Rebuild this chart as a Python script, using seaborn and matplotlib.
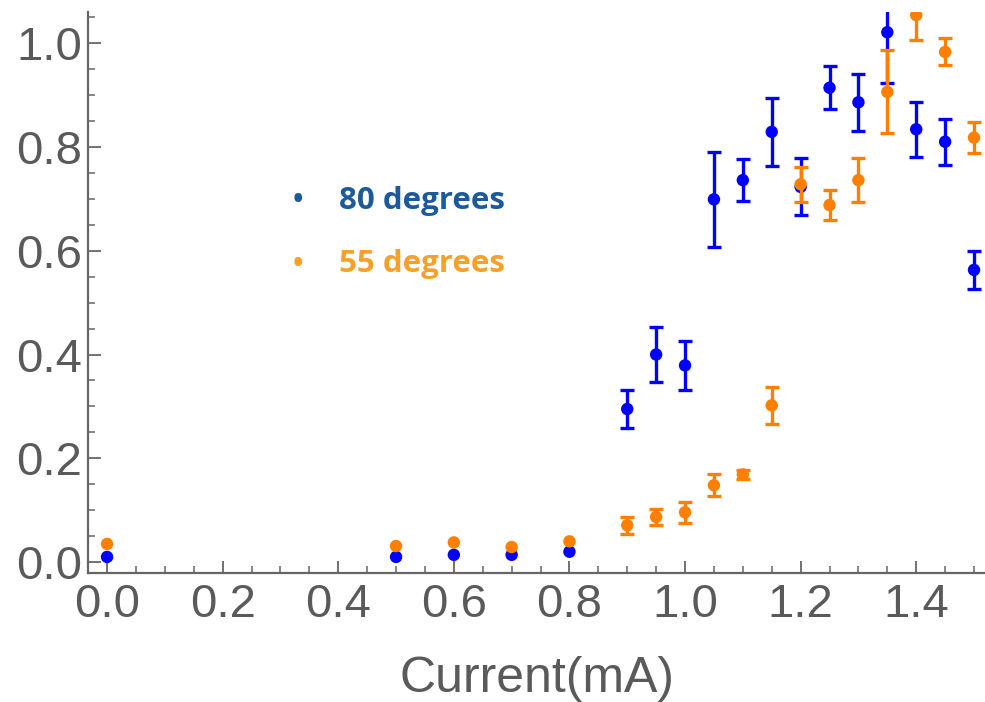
import matplotlib
matplotlib.use("Agg")
import matplotlib.pyplot as plt
from matplotlib.ticker import MultipleLocator
import seaborn as sns
import pandas as pd
import numpy as np

# ---- data ----
current = [0.0, 0.5, 0.6, 0.7, 0.8, 0.9, 0.95, 1.0, 1.05, 1.1, 1.15, 1.2, 1.25, 1.3, 1.35, 1.4, 1.45, 1.5]
deg80 = [0.010, 0.010, 0.014, 0.014, 0.020, 0.295, 0.400, 0.379, 0.699, 0.736, 0.829, 0.723, 0.914, 0.886, 1.021, 0.834, 0.810, 0.563]
deg80_err = [0.0, 0.0, 0.0, 0.0, 0.0, 0.037, 0.053, 0.047, 0.092, 0.041, 0.065, 0.055, 0.041, 0.055, 0.097, 0.053, 0.044, 0.036]
deg55 = [0.035, 0.031, 0.038, 0.029, 0.040, 0.071, 0.087, 0.096, 0.148, 0.169, 0.302, 0.728, 0.688, 0.736, 0.906, 1.054, 0.983, 0.818]
deg55_err = [0.0, 0.0, 0.0, 0.0, 0.0, 0.016, 0.016, 0.020, 0.021, 0.008, 0.035, 0.034, 0.029, 0.043, 0.080, 0.047, 0.026, 0.030]
series_names = ["80 degrees", "55 degrees"]
x_ticks = [0.0, 0.2, 0.4, 0.6, 0.8, 1.0, 1.2, 1.4]
y_ticks = [0.0, 0.2, 0.4, 0.6, 0.8, 1.0]
x_label = "Current(mA)"

marker_colors = {"80 degrees": "#0000ff", "55 degrees": "#ff7f00"}
legend_colors = {"80 degrees": "#1c5a9c", "55 degrees": "#f7a02a"}

df = pd.concat([
    pd.DataFrame({"current": current, "value": deg80, "err": deg80_err, "series": series_names[0]}),
    pd.DataFrame({"current": current, "value": deg55, "err": deg55_err, "series": series_names[1]}),
])

sns.set_theme(style="white")
plt.rcParams['font.family'] = ['Liberation Sans', 'DejaVu Sans']

fig = plt.figure(figsize=(9.85, 7.02), dpi=100)
ax = fig.add_axes([88/985, (702-573)/702, 1 - 88/985, (573-12)/702])

axis_gray = "#666666"
for i, name in enumerate(series_names):
    sub = df[df["series"] == name]
    eb = sub[sub["err"] > 0]
    ax.errorbar(eb["current"], eb["value"], yerr=eb["err"], fmt="none",
                ecolor=marker_colors[name], elinewidth=2.4, capsize=5, capthick=2.4,
                zorder=2 + 2 * i)
    sns.scatterplot(data=sub, x="current", y="value", color=marker_colors[name],
                    s=80, edgecolor="none", ax=ax, zorder=3 + 2 * i, legend=False)

ax.set_xlim(-0.033, 1.519)
ax.set_ylim(-0.021, 1.06)
ax.set_xticks(x_ticks)
ax.set_yticks(y_ticks)
ax.set_xticklabels([f"{v:.1f}" for v in x_ticks])
ax.set_yticklabels([f"{v:.1f}" for v in y_ticks])
ax.xaxis.set_minor_locator(MultipleLocator(0.05))
ax.yaxis.set_minor_locator(MultipleLocator(0.05))
ax.tick_params(which="major", direction="in", length=9, width=1.3, color=axis_gray,
               labelsize=34, labelcolor="#5a5a5a")
ax.tick_params(axis="y", which="major", pad=4)
ax.tick_params(axis="x", which="major", pad=7)
ax.tick_params(which="minor", direction="in", length=5, width=1.1, color=axis_gray)
ax.tick_params(axis="x", which="both", bottom=True)
ax.tick_params(axis="y", which="both", left=True)
for side in ["top", "right"]:
    ax.spines[side].set_visible(False)
for side in ["left", "bottom"]:
    ax.spines[side].set_color(axis_gray)
    ax.spines[side].set_linewidth(1.6)

ax.set_xlabel(x_label, fontsize=36, color="#5a5a5a", labelpad=21)
ax.set_ylabel("")

# legend drawn as text (as in the reference)
legend_y = [201, 264]
for name, yp in zip(series_names, legend_y):
    fig.text(298/985, 1 - yp/702, "•", color=legend_colors[name], fontsize=20,
             fontweight="bold", ha="center", va="center", family=["Open Sans", "DejaVu Sans"])
    fig.text(339/985, 1 - yp/702, name, color=legend_colors[name], fontsize=22.5,
             fontweight="bold", ha="left", va="center", family=["Open Sans", "DejaVu Sans"])

fig.savefig("out.png", dpi=100)
